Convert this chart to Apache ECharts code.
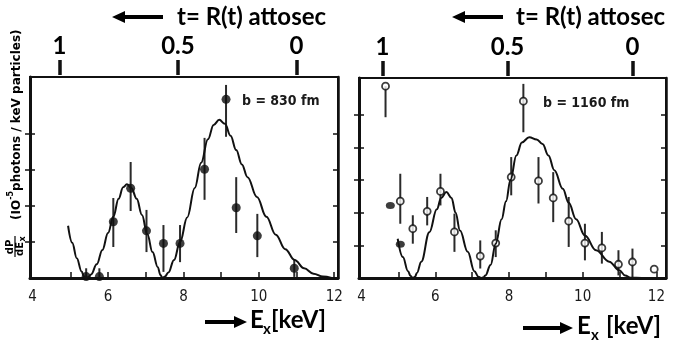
<!DOCTYPE html>
<html>
<head>
<meta charset="utf-8">
<script src="https://cdn.jsdelivr.net/npm/echarts@6/dist/echarts.min.js"></script>
<style>
  html, body { margin: 0; padding: 0; background: #fff; }
  #chart { width: 685px; height: 353px; }
</style>
</head>
<body>
<div id="chart"></div>
<script>
// ---- left panel (b = 830 fm) ----
const leftPtsE  = [5.42, 5.77, 6.14, 6.6, 7.02, 7.47, 7.91, 8.56, 9.13, 9.4, 9.96, 10.94];
const leftPtsV  = [0.04, 0.04, 1.56, 2.49, 1.31, 0.96, 0.96, 3.02, 4.96, 1.95, 1.17, 0.27];
const leftPtsLo = [0, 0, 0.86, 1.86, 0.72, 0.17, 0.44, 2.17, 3.92, 1.25, 0.58, 0.03];
const leftPtsHi = [0.27, 0.27, 2.22, 3.22, 1.89, 1.47, 1.47, 3.89, 5.36, 2.8, 1.78, 0.5];

const leftCurveE = [4.94, 5.05, 5.17, 5.3, 5.36, 5.42, 5.48, 5.55, 5.7, 5.85, 6.0, 6.14, 6.28, 6.4, 6.5, 6.62, 6.76, 6.9, 7.04, 7.18, 7.32, 7.39, 7.45,
  7.51, 7.6, 7.75, 7.91, 8.1, 8.3, 8.47, 8.65, 8.8, 8.95, 9.1, 9.25, 9.4, 9.55, 9.7, 9.95, 10.2, 10.45, 10.7, 10.95, 11.2, 11.45, 11.7, 11.93];
const leftCurveV = [1.45, 0.98, 0.55, 0.18, 0.05, 0.0, 0.03, 0.1, 0.38, 0.78, 1.25, 1.7, 2.2, 2.52, 2.6, 2.5, 2.2, 1.75, 1.22, 0.72, 0.3, 0.08, 0.0,
  0.04, 0.15, 0.5, 1.0, 1.68, 2.5, 3.2, 3.85, 4.25, 4.39, 4.28, 3.95, 3.55, 3.15, 2.8, 2.25, 1.7, 1.2, 0.8, 0.5, 0.27, 0.12, 0.04, 0];

// ---- right panel (b = 1160 fm) ----
const rightPtsE  = [4.65, 5.05, 5.39, 5.78, 6.14, 6.52, 7.22, 7.64, 8.06, 8.39, 8.8, 9.2, 9.62, 10.06, 10.52, 10.97, 11.35, 11.94];
const rightPtsV  = [5.87, 2.35, 1.51, 2.04, 2.65, 1.41, 0.67, 1.07, 3.09, 5.41, 2.97, 2.45, 1.74, 1.07, 0.92, 0.42, 0.49, 0.27];
const rightPtsLo = [4.92, 1.66, 1.05, 1.61, 2.22, 0.8, 0.29, 0.64, 2.53, 4.46, 2.28, 1.71, 0.95, 0.54, 0.44, 0.08, 0.03, 0.27];
const rightPtsHi = [5.87, 3.19, 1.92, 2.48, 3.19, 1.97, 1.15, 1.46, 3.7, 5.94, 3.7, 3.24, 2.48, 1.66, 1.41, 0.85, 0.9, 0.27];
const rightFilledE = [4.78, 5.05];
const rightFilledV = [2.22, 1.03];

const rightCurveE = [4.98, 5.12, 5.26, 5.33, 5.39, 5.45, 5.5, 5.62, 5.84, 6.04, 6.16, 6.3, 6.44, 6.55, 6.67, 6.88, 7.06, 7.17, 7.24,
  7.31, 7.36, 7.5, 7.64, 7.8, 7.92, 8.04, 8.2, 8.35, 8.55, 8.75, 8.91, 9.07, 9.23, 9.46, 9.62, 9.82, 10.06, 10.36, 10.72, 10.99, 11.15, 11.3, 11.6, 12.0];
const rightCurveV = [1.2, 0.64, 0.21, 0.06, 0, 0.04, 0.15, 0.5, 1.4, 2.1, 2.45, 2.63, 2.45, 2.0, 1.45, 0.8, 0.21, 0.04, 0,
  0.02, 0.08, 0.4, 1.05, 1.8, 2.35, 3.0, 3.75, 4.15, 4.31, 4.24, 4.1, 3.75, 3.3, 2.73, 2.3, 1.8, 1.3, 0.85, 0.5, 0.24, 0.08, 0.01, 0, 0];

// tick labels
const energyLabels = [4, 6, 8, 10, 12];
const energyTicks = [5, 6, 7, 8, 9, 10, 11, 12];
const timeLabels = [0, 0.5, 1];

const zip2 = (a, b) => a.map((v, i) => [v, b[i]]);
const zip3 = (a, b, c) => a.map((v, i) => [v, b[i], c[i]]);

const INK = '#111';

function errorBars(p, api) {
  const a = api.coord([api.value(0), api.value(1)]);
  const b = api.coord([api.value(0), api.value(2)]);
  return { type: 'line', shape: { x1: a[0], y1: a[1], x2: b[0], y2: b[1] },
           style: { stroke: '#2a2a2a', lineWidth: 2 } };
}

function energyAxis(grid, min, max) {
  return {
    type: 'value', gridIndex: grid, position: 'bottom', min, max,
    axisLine: { onZero: false, lineStyle: { color: INK, width: 3 } },
    axisTick: { inside: true, length: 6, customValues: energyTicks, lineStyle: { color: INK, width: 1.5 } },
    axisLabel: { customValues: energyLabels, margin: 12, color: '#1a1a1a', fontSize: 15,
                 fontFamily: '"DejaVu Sans Condensed", "Liberation Sans Narrow", sans-serif' },
    splitLine: { show: false }
  };
}

function timeAxis(grid, min, max) {
  return {
    type: 'value', gridIndex: grid, position: 'top', min, max, inverse: true, offset: 2,
    axisLine: { show: false, onZero: false },
    axisTick: { length: 15, customValues: timeLabels, lineStyle: { color: INK, width: 3.5 } },
    axisLabel: { customValues: timeLabels, margin: 17, color: '#000', fontSize: 24, fontWeight: 'bold',
                 fontFamily: 'Lato, "Open Sans", sans-serif' },
    splitLine: { show: false }
  };
}

function countAxis(grid, pos, max, ticks, inside, lineWidth) {
  return {
    type: 'value', gridIndex: grid, position: pos, min: 0, max,
    axisLine: { show: lineWidth > 0, onZero: false, lineStyle: { color: INK, width: lineWidth } },
    axisTick: { inside, length: 5, customValues: ticks, lineStyle: { color: INK, width: 1.5 } },
    axisLabel: { show: false },
    splitLine: { show: false }
  };
}

const chart = echarts.init(document.getElementById('chart'));

const boldFont = 'Lato, "Open Sans", sans-serif';

function arrow(x1, x2, y, leftHead) {
  // long arrow used in the hand-drawn axis captions
  const head = 13, half = 6, th = 2;
  const pts = leftHead
    ? [[x1, y], [x1 + head, y - half], [x1 + head, y - th], [x2, y - th], [x2, y + th], [x1 + head, y + th], [x1 + head, y + half]]
    : [[x2, y], [x2 - head, y - half], [x2 - head, y - th], [x1, y - th], [x1, y + th], [x2 - head, y + th], [x2 - head, y + half]];
  return { type: 'polygon', shape: { points: pts }, style: { fill: '#000' } };
}

function txt(x, y, text, size, extra) {
  return { type: 'text', x, y, style: Object.assign({ text, fill: '#000', fontSize: size, fontWeight: 'bold',
           fontFamily: boldFont, textVerticalAlign: 'middle', textAlign: 'left' }, extra || {}) };
}

const annoFont = { fontWeight: 'bold', fill: '#1a1a1a', fontFamily: '"DejaVu Sans Condensed", "DejaVu Sans", sans-serif' };

const option = {
  animation: false,
  backgroundColor: '#fff',
  grid: [
    { left: 30, top: 77, width: 308, height: 201, show: true, borderColor: INK, borderWidth: 2 },
    { left: 359, top: 78, width: 307, height: 200, show: true, borderColor: INK, borderWidth: 2 }
  ],
  xAxis: [
    energyAxis(0, 3.93, 12.1),
    timeAxis(0, -0.175, 1.124),
    energyAxis(1, 3.93, 12.26),
    timeAxis(1, -0.134, 1.094)
  ],
  yAxis: [
    countAxis(0, 'left', 5.58, [1, 2, 3, 4], true, 3),
    countAxis(0, 'right', 5.58, [1, 2, 3, 4], true, 2.5),
    countAxis(1, 'left', 6.12, [1, 2, 3, 4, 5], true, 3),
    countAxis(1, 'right', 6.12, [1, 2, 3, 4, 5], true, 2.5),
    countAxis(0, 'left', 5.58, [1, 2, 3, 4], false, 0),
    countAxis(1, 'left', 6.12, [1, 2, 3, 4, 5], false, 0)
  ],
  series: [
    { type: 'line', xAxisIndex: 0, yAxisIndex: 0, data: zip2(leftCurveE, leftCurveV), smooth: 0.4, smoothMonotone: 'x',
      symbol: 'none', lineStyle: { color: INK, width: 2 } },
    { type: 'custom', xAxisIndex: 0, yAxisIndex: 0, renderItem: errorBars, clip: true,
      encode: { x: 0, y: [1, 2] }, data: zip3(leftPtsE, leftPtsLo, leftPtsHi) },
    { type: 'scatter', xAxisIndex: 0, yAxisIndex: 0, data: zip2(leftPtsE, leftPtsV), symbol: 'circle',
      symbolSize: 9, itemStyle: { color: '#0d0d0d' } },

    { type: 'line', xAxisIndex: 2, yAxisIndex: 2, data: zip2(rightCurveE, rightCurveV), smooth: 0.4, smoothMonotone: 'x',
      symbol: 'none', lineStyle: { color: INK, width: 2 } },
    { type: 'custom', xAxisIndex: 2, yAxisIndex: 2, renderItem: errorBars, clip: true,
      encode: { x: 0, y: [1, 2] }, data: zip3(rightPtsE, rightPtsLo, rightPtsHi) },
    { type: 'scatter', xAxisIndex: 2, yAxisIndex: 2, data: zip2(rightPtsE, rightPtsV), symbol: 'circle',
      symbolSize: 7, itemStyle: { color: '#fff', borderColor: '#0d0d0d', borderWidth: 1.8 } },
    { type: 'scatter', xAxisIndex: 2, yAxisIndex: 2, data: zip2(rightFilledE, rightFilledV), symbol: 'circle',
      symbolSize: [9, 7], itemStyle: { color: '#0d0d0d' } }
  ],
  graphic: [
    // top captions
    arrow(112, 163, 17, true),
    txt(177, 17, 't= R(t) attosec', 24),
    arrow(452, 503, 17, true),
    txt(516, 17, 't= R(t) attosec', 24),
    // bottom captions
    arrow(205, 247, 322, false),
    txt(250, 320, 'E', 24),
    txt(263, 329, 'x', 15),
    txt(271, 320, '[keV]', 24),
    arrow(523, 573, 328, false),
    txt(577, 326, 'E', 24),
    txt(591, 335, 'x', 15),
    txt(606, 326, '[keV]', 24),
    // panel annotations
    txt(242, 101, 'b = 830 fm', 14, annoFont),
    txt(543, 103, 'b = 1160 fm', 14, annoFont),
    // rotated y label of the left panel
    {
      type: 'group', x: 15, y: 270, rotation: Math.PI / 2,
      children: [
        { type: 'text', x: 23, y: -5, style: { text: 'dP', fontSize: 10, fontWeight: 'bold', fill: '#000',
          fontFamily: '"DejaVu Sans", sans-serif', textAlign: 'center', textVerticalAlign: 'middle' } },
        { type: 'line', shape: { x1: 13, y1: 0, x2: 34, y2: 0 }, style: { stroke: '#000', lineWidth: 1.2 } },
        { type: 'text', x: 21, y: 5, style: { text: 'dE', fontSize: 10, fontWeight: 'bold', fill: '#000',
          fontFamily: '"DejaVu Sans", sans-serif', textAlign: 'center', textVerticalAlign: 'middle' } },
        { type: 'text', x: 31, y: 8, style: { text: 'x', fontSize: 8, fontWeight: 'bold', fill: '#000',
          fontFamily: '"DejaVu Sans", sans-serif', textAlign: 'center', textVerticalAlign: 'middle' } },
        { type: 'text', x: 50, y: 0, style: {
          text: '{a|(IO}{s|-5}{a|photons / keV particles)}', fill: '#000', textAlign: 'left', textVerticalAlign: 'middle',
          rich: {
            a: { fontSize: 12, fontWeight: 'bold', fontFamily: '"DejaVu Sans", sans-serif', lineHeight: 16, verticalAlign: 'bottom' },
            s: { fontSize: 8, fontWeight: 'bold', fontFamily: '"DejaVu Sans", sans-serif', lineHeight: 16, verticalAlign: 'top' }
          } } }
      ]
    }
  ]
};

chart.setOption(option);
</script>
</body>
</html>
